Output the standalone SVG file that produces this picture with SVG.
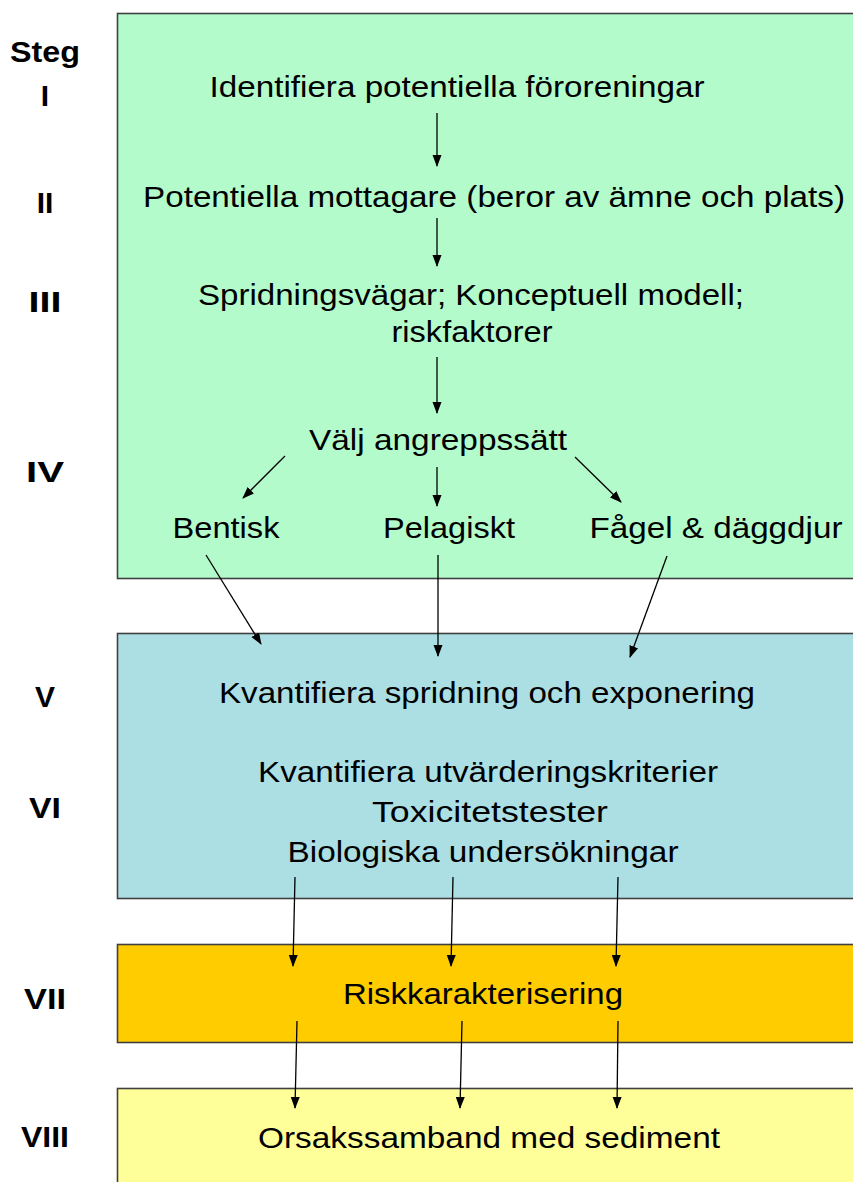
<svg xmlns="http://www.w3.org/2000/svg" width="853" height="1182" viewBox="0 0 853 1182">
<style>
  .box { stroke: #404040; stroke-width: 1.6; }
  .t { font-family: "Liberation Sans", Arial, sans-serif; font-size: 30px; fill: #000; text-anchor: middle; }
  .step { font-family: "Liberation Sans", Arial, sans-serif; font-size: 30px; font-weight: bold; fill: #000; text-anchor: middle; }
  .conn line { stroke: #000; stroke-width: 1.3; marker-end: url(#arrow); }
</style>
<defs>
  <marker id="arrow" markerWidth="12" markerHeight="10" refX="11" refY="4.5" orient="auto" markerUnits="userSpaceOnUse">
    <path d="M0,0 L12,4.5 L0,9 Z" fill="#000"/>
  </marker>
</defs>
<rect width="853" height="1182" fill="#fff"/>

<!-- step numbers -->
<g id="steps">
  <text class="step" x="45" y="62" textLength="70" lengthAdjust="spacingAndGlyphs">Steg</text>
  <text class="step" x="45" y="106">I</text>
  <text class="step" x="45" y="213">II</text>
  <text class="step" x="45" y="312" textLength="33" lengthAdjust="spacingAndGlyphs">III</text>
  <text class="step" x="45" y="482" textLength="38" lengthAdjust="spacingAndGlyphs">IV</text>
  <text class="step" x="45" y="707">V</text>
  <text class="step" x="45" y="818" textLength="32" lengthAdjust="spacingAndGlyphs">VI</text>
  <text class="step" x="45" y="1009" textLength="42" lengthAdjust="spacingAndGlyphs">VII</text>
  <text class="step" x="45" y="1147" textLength="48" lengthAdjust="spacingAndGlyphs">VIII</text>
</g>

<!-- stage I-IV -->
<g id="stage-identify">
  <rect class="box" x="117.5" y="13.5" width="745" height="565" fill="#b3fbca"/>
  <text class="t" x="457" y="97" textLength="495" lengthAdjust="spacingAndGlyphs">Identifiera potentiella föroreningar</text>
  <text class="t" x="494" y="207" textLength="702" lengthAdjust="spacingAndGlyphs">Potentiella mottagare (beror av ämne och plats)</text>
  <text class="t" x="471" y="305" textLength="546" lengthAdjust="spacingAndGlyphs">Spridningsvägar; Konceptuell modell;</text>
  <text class="t" x="472" y="342" textLength="161" lengthAdjust="spacingAndGlyphs">riskfaktorer</text>
  <text class="t" x="438" y="450" textLength="258" lengthAdjust="spacingAndGlyphs">Välj angreppssätt</text>
  <text class="t" x="226" y="538" textLength="107" lengthAdjust="spacingAndGlyphs">Bentisk</text>
  <text class="t" x="449" y="538" textLength="132" lengthAdjust="spacingAndGlyphs">Pelagiskt</text>
  <text class="t" x="716" y="538" textLength="253" lengthAdjust="spacingAndGlyphs">Fågel &amp; däggdjur</text>
</g>

<!-- stage V-VI -->
<g id="stage-quantify">
  <rect class="box" x="117.5" y="633.5" width="745" height="265" fill="#abdfe3"/>
  <text class="t" x="487" y="703" textLength="536" lengthAdjust="spacingAndGlyphs">Kvantifiera spridning och exponering</text>
  <text class="t" x="488" y="782" textLength="460" lengthAdjust="spacingAndGlyphs">Kvantifiera utvärderingskriterier</text>
  <text class="t" x="490" y="822" textLength="236" lengthAdjust="spacingAndGlyphs">Toxicitetstester</text>
  <text class="t" x="483" y="862" textLength="391" lengthAdjust="spacingAndGlyphs">Biologiska undersökningar</text>
</g>

<!-- stage VII -->
<g id="stage-risk">
  <rect class="box" x="117.5" y="944.5" width="745" height="98" fill="#ffcc00"/>
  <text class="t" x="483" y="1004" textLength="280" lengthAdjust="spacingAndGlyphs">Riskkarakterisering</text>
</g>

<!-- stage VIII -->
<g id="stage-causal">
  <rect class="box" x="117.5" y="1088.5" width="745" height="110" fill="#ffff99"/>
  <text class="t" x="489" y="1148" textLength="462" lengthAdjust="spacingAndGlyphs">Orsakssamband med sediment</text>
</g>

<!-- connectors -->
<g class="conn" id="connectors">
  <line x1="437" y1="113" x2="437" y2="166"/>
  <line x1="437" y1="218" x2="437" y2="266"/>
  <line x1="437" y1="357" x2="437" y2="413"/>
  <line x1="285" y1="456" x2="243" y2="498"/>
  <line x1="437" y1="467" x2="437" y2="506"/>
  <line x1="575" y1="457" x2="621" y2="502"/>
  <line x1="206" y1="555" x2="261" y2="644"/>
  <line x1="438" y1="555" x2="438" y2="656"/>
  <line x1="667" y1="556" x2="630" y2="657"/>
  <line x1="295" y1="877" x2="293" y2="966"/>
  <line x1="453" y1="877" x2="451" y2="966"/>
  <line x1="618" y1="877" x2="616" y2="966"/>
  <line x1="297" y1="1021" x2="295" y2="1108"/>
  <line x1="462" y1="1021" x2="460" y2="1108"/>
  <line x1="618" y1="1021" x2="617" y2="1108"/>
</g>
</svg>
